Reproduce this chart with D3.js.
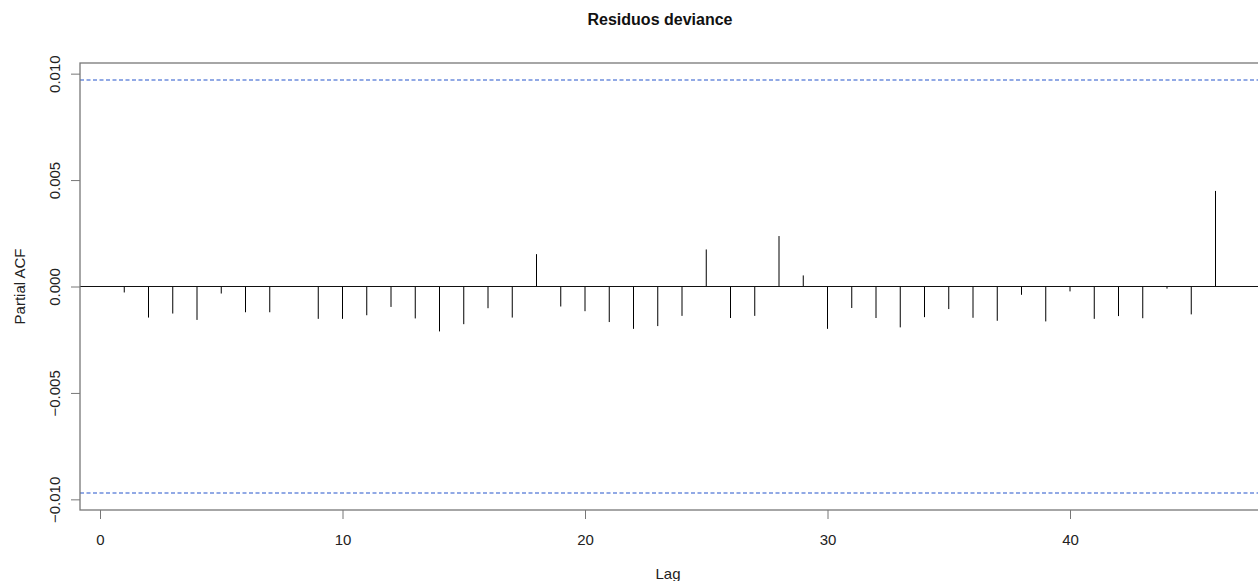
<!DOCTYPE html>
<html>
<head>
<meta charset="utf-8">
<script src="https://cdn.jsdelivr.net/npm/d3@7"></script>
<style>
  body { margin: 0; background: #fff; }
  text { font-family: "Liberation Sans", Arial, sans-serif; }
</style>
</head>
<body>
<script>
// partial autocorrelations, lags 1..46
var lags = d3.range(1, 47);
var pacfValues = [
    -0.00028, -0.00146, -0.00127, -0.00157, -0.00033, -0.00121, -0.00121, -0.00002,
    -0.00152, -0.00152, -0.00135, -0.00096, -0.00150, -0.00211, -0.00177, -0.00102,
    -0.00146, 0.00152, -0.00094, -0.00116, -0.00167, -0.00199, -0.00186, -0.00138,
    0.00174, -0.00148, -0.00138, 0.00237, 0.00052, -0.00199, -0.00101, -0.00148,
    -0.00192, -0.00144, -0.00106, -0.00147, -0.00161, -0.00039, -0.00164, -0.00023,
    -0.00152, -0.00139, -0.00149, -0.00010, -0.00131, 0.00449
];
var confLimit = 0.0097;
var xTicks = [0, 10, 20, 30, 40];
var yTicks = [-0.010, -0.005, 0.000, 0.005, 0.010];

var W = 1258, H = 581;
var box = { left: 80, top: 63, right: 1275, bottom: 510 };

var svg = d3.select("body").append("svg")
    .attr("width", W)
    .attr("height", H);

var x = d3.scaleLinear().domain([0, 46]).range([100, 1215.5]);
var y = d3.scaleLinear().domain([-0.0105, 0.0105]).range([box.bottom, box.top]);

// spikes
svg.append("g").selectAll("line")
    .data(lags)
    .enter().append("line")
    .attr("x1", function (d) { return x(d); })
    .attr("x2", function (d) { return x(d); })
    .attr("y1", y(0))
    .attr("y2", function (d, i) { return y(pacfValues[i]); })
    .attr("stroke", "#000")
    .attr("stroke-width", 1);

// zero line
svg.append("line")
    .attr("x1", box.left).attr("x2", W)
    .attr("y1", y(0)).attr("y2", y(0))
    .attr("stroke", "#111")
    .attr("stroke-width", 1.2);

// confidence band
svg.selectAll(".conf")
    .data([confLimit, -confLimit])
    .enter().append("line")
    .attr("class", "conf")
    .attr("x1", box.left).attr("x2", W)
    .attr("y1", function (d) { return y(d); })
    .attr("y2", function (d) { return y(d); })
    .attr("stroke", "#2455cc")
    .attr("stroke-width", 1.1)
    .attr("stroke-dasharray", "4,2.5");

// frame
svg.append("rect")
    .attr("x", box.left).attr("y", box.top)
    .attr("width", box.right - box.left)
    .attr("height", box.bottom - box.top)
    .attr("fill", "none")
    .attr("stroke", "#777")
    .attr("stroke-width", 1.3);

// x axis
var xAxis = d3.axisBottom(x).tickValues(xTicks).tickSize(9).tickPadding(15)
    .tickFormat(d3.format("d"));
var gx = svg.append("g")
    .attr("transform", "translate(0," + box.bottom + ")")
    .call(xAxis);
gx.select(".domain").remove();
gx.selectAll(".tick line").attr("stroke", "#777");
gx.selectAll(".tick text").attr("font-size", 15).attr("fill", "#222")
    .attr("font-family", "Liberation Sans, Arial, sans-serif");

// y axis
var yAxis = d3.axisLeft(y).tickValues(yTicks).tickSize(9).tickFormat(d3.format(".3f"));
var gy = svg.append("g")
    .attr("transform", "translate(" + box.left + ",0)")
    .call(yAxis);
gy.select(".domain").remove();
gy.selectAll(".tick line").attr("stroke", "#777");
gy.selectAll(".tick text")
    .attr("font-size", 15).attr("fill", "#222")
    .attr("font-family", "Liberation Sans, Arial, sans-serif")
    .attr("x", 0).attr("dy", 0)
    .attr("text-anchor", "middle")
    .attr("transform", "translate(-20,0) rotate(-90)");

// labels
svg.append("text")
    .attr("x", 660).attr("y", 25)
    .attr("text-anchor", "middle")
    .attr("font-size", 16).attr("font-weight", "bold")
    .attr("fill", "#111")
    .text("Residuos deviance");

svg.append("text")
    .attr("x", 668).attr("y", 579)
    .attr("text-anchor", "middle")
    .attr("font-size", 15).attr("fill", "#222")
    .text("Lag");

svg.append("text")
    .attr("transform", "translate(25," + y(0) + ") rotate(-90)")
    .attr("text-anchor", "middle")
    .attr("font-size", 15).attr("fill", "#222")
    .text("Partial ACF");
</script>
</body>
</html>
